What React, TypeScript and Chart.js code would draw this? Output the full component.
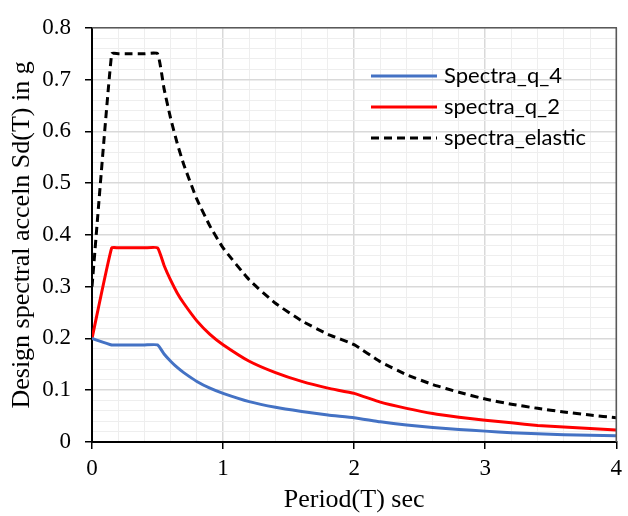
import React, { useEffect, useRef } from "react";
import { Chart, registerables } from "chart.js";

Chart.register(...registerables);

const periods = [0, 0.15, 0.2, 0.3, 0.4, 0.5, 0.55, 0.6, 0.65, 0.7, 0.8, 0.9, 1.0, 1.2, 1.4, 1.6, 1.8, 2.0, 2.2, 2.4, 2.6, 2.8, 3.0, 3.2, 3.4, 3.6, 3.8, 4.0];
const spectraQ4 = [0.2, 0.1875, 0.1875, 0.1875, 0.1875, 0.1875, 0.17, 0.156, 0.144, 0.134, 0.117, 0.104, 0.094, 0.078, 0.067, 0.059, 0.052, 0.047, 0.039, 0.033, 0.028, 0.024, 0.021, 0.018, 0.016, 0.014, 0.013, 0.012];
const spectraQ2 = [0.2, 0.375, 0.375, 0.375, 0.375, 0.375, 0.341, 0.3125, 0.288, 0.268, 0.234, 0.208, 0.188, 0.156, 0.134, 0.117, 0.104, 0.094, 0.077, 0.065, 0.055, 0.048, 0.042, 0.037, 0.032, 0.029, 0.026, 0.023];
const spectraElastic = [0.3, 0.75, 0.75, 0.75, 0.75, 0.75, 0.682, 0.625, 0.577, 0.536, 0.469, 0.417, 0.375, 0.313, 0.268, 0.234, 0.208, 0.188, 0.155, 0.13, 0.111, 0.096, 0.083, 0.073, 0.065, 0.058, 0.052, 0.047];
const seriesNames = ["Spectra_q_4", "spectra_q_2", "spectra_elastic"];
const xTickLabels = ["0", "1", "2", "3", "4"];
const yTickLabels = ["0", "0.1", "0.2", "0.3", "0.4", "0.5", "0.6", "0.7", "0.8"];

const SERIF = "'Liberation Serif', 'Times New Roman', serif";

const frameAndLegend = {
  id: "frameAndLegend",
  afterDatasetsDraw(chart: any) {
    const { ctx, chartArea } = chart;
    ctx.save();
    // top & right frame
    ctx.strokeStyle = "#595959";
    ctx.lineWidth = 1.5;
    ctx.beginPath();
    ctx.moveTo(chartArea.left, chartArea.top);
    ctx.lineTo(chartArea.right, chartArea.top);
    ctx.lineTo(chartArea.right, chartArea.bottom);
    ctx.stroke();
    // legend
    const rows = [76, 107, 138];
    chart.data.datasets.forEach((ds: any, i: number) => {
      const y = rows[i];
      ctx.strokeStyle = ds.borderColor;
      ctx.lineWidth = 3;
      ctx.setLineDash(ds.borderDash || []);
      ctx.beginPath();
      ctx.moveTo(371, y);
      ctx.lineTo(437, y);
      ctx.stroke();
      ctx.setLineDash([]);
      ctx.fillStyle = "#000";
      ctx.font = "22px Lato";
      ctx.textBaseline = "middle";
      ctx.textAlign = "left";
      ctx.fillText(ds.label, 444, y);
    });
    ctx.restore();
  },
};

export default function App() {
  const ref = useRef<HTMLCanvasElement>(null);
  useEffect(() => {
    const mk = (vals: number[]) => periods.map((t, i) => ({ x: t, y: vals[i] }));
    const isMajorX = (v: number) => Math.abs(v - Math.round(v)) < 1e-6;
    const isMajorY = (v: number) => Math.abs(v * 10 - Math.round(v * 10)) < 1e-6;
    const chart = new Chart(ref.current!, {
      type: "line",
      data: {
        datasets: [
          { label: seriesNames[0], data: mk(spectraQ4), borderColor: "#4472C4", borderWidth: 3, pointRadius: 0, tension: 0.15, fill: false },
          { label: seriesNames[1], data: mk(spectraQ2), borderColor: "#FF0000", borderWidth: 3, pointRadius: 0, tension: 0.15, fill: false },
          { label: seriesNames[2], data: mk(spectraElastic), borderColor: "#000000", borderWidth: 3, borderDash: [8, 5], pointRadius: 0, tension: 0.15, fill: false },
        ],
      },
      options: {
        animation: false,
        responsive: false,
        devicePixelRatio: 1,
        layout: { padding: { top: 18, right: 3, left: 0, bottom: 0 } },
        plugins: { legend: { display: false }, tooltip: { enabled: false } },
        scales: {
          x: {
            type: "linear",
            min: 0,
            max: 4,
            afterFit: (s: any) => { s.height = 74; },
            ticks: {
              stepSize: 0.2,
              autoSkip: false,
              maxRotation: 0,
              padding: 6,
              color: "#000",
              font: { family: SERIF, size: 23 },
              callback: (v: any) => (isMajorX(v) ? xTickLabels[Math.round(v)] : ""),
            },
            grid: {
              color: (c: any) => (isMajorX(c.tick.value) ? "#d9d9d9" : "#eeeeee"),
              lineWidth: (c: any) => (isMajorX(c.tick.value) ? 1.5 : 1),
              tickColor: (c: any) => (isMajorX(c.tick.value) ? "#000" : "rgba(0,0,0,0)"),
              tickLength: 7,
            },
            border: { color: "#000", width: 2 },
            title: { display: true, text: "Period(T) sec", color: "#000", font: { family: SERIF, size: 26 }, padding: { top: 10, bottom: 0 } },
          },
          y: {
            min: 0,
            max: 0.8,
            afterFit: (s: any) => { s.width = 92; },
            ticks: {
              stepSize: 0.02,
              autoSkip: false,
              padding: 14,
              color: "#000",
              font: { family: SERIF, size: 23 },
              callback: (v: any) => (isMajorY(v) ? yTickLabels[Math.round(v * 10)] : ""),
            },
            grid: {
              color: (c: any) => (isMajorY(c.tick.value) ? "#d9d9d9" : "#eeeeee"),
              lineWidth: (c: any) => (isMajorY(c.tick.value) ? 1.5 : 1),
              tickColor: (c: any) => (isMajorY(c.tick.value) ? "#000" : "rgba(0,0,0,0)"),
              tickLength: 7,
            },
            border: { color: "#000", width: 2 },
            title: { display: true, text: "Design spectral acceln Sd(T) in g", color: "#000", font: { family: SERIF, size: 26 }, padding: { top: 7, bottom: 0 } },
          },
        },
      },
      plugins: [frameAndLegend],
    } as any);
    return () => chart.destroy();
  }, []);
  return (
    <div style={{ position: "fixed", left: 0, top: 0, width: 628, height: 516, background: "#fff" }}>
      <canvas ref={ref} width={628} height={516} />
    </div>
  );
}
